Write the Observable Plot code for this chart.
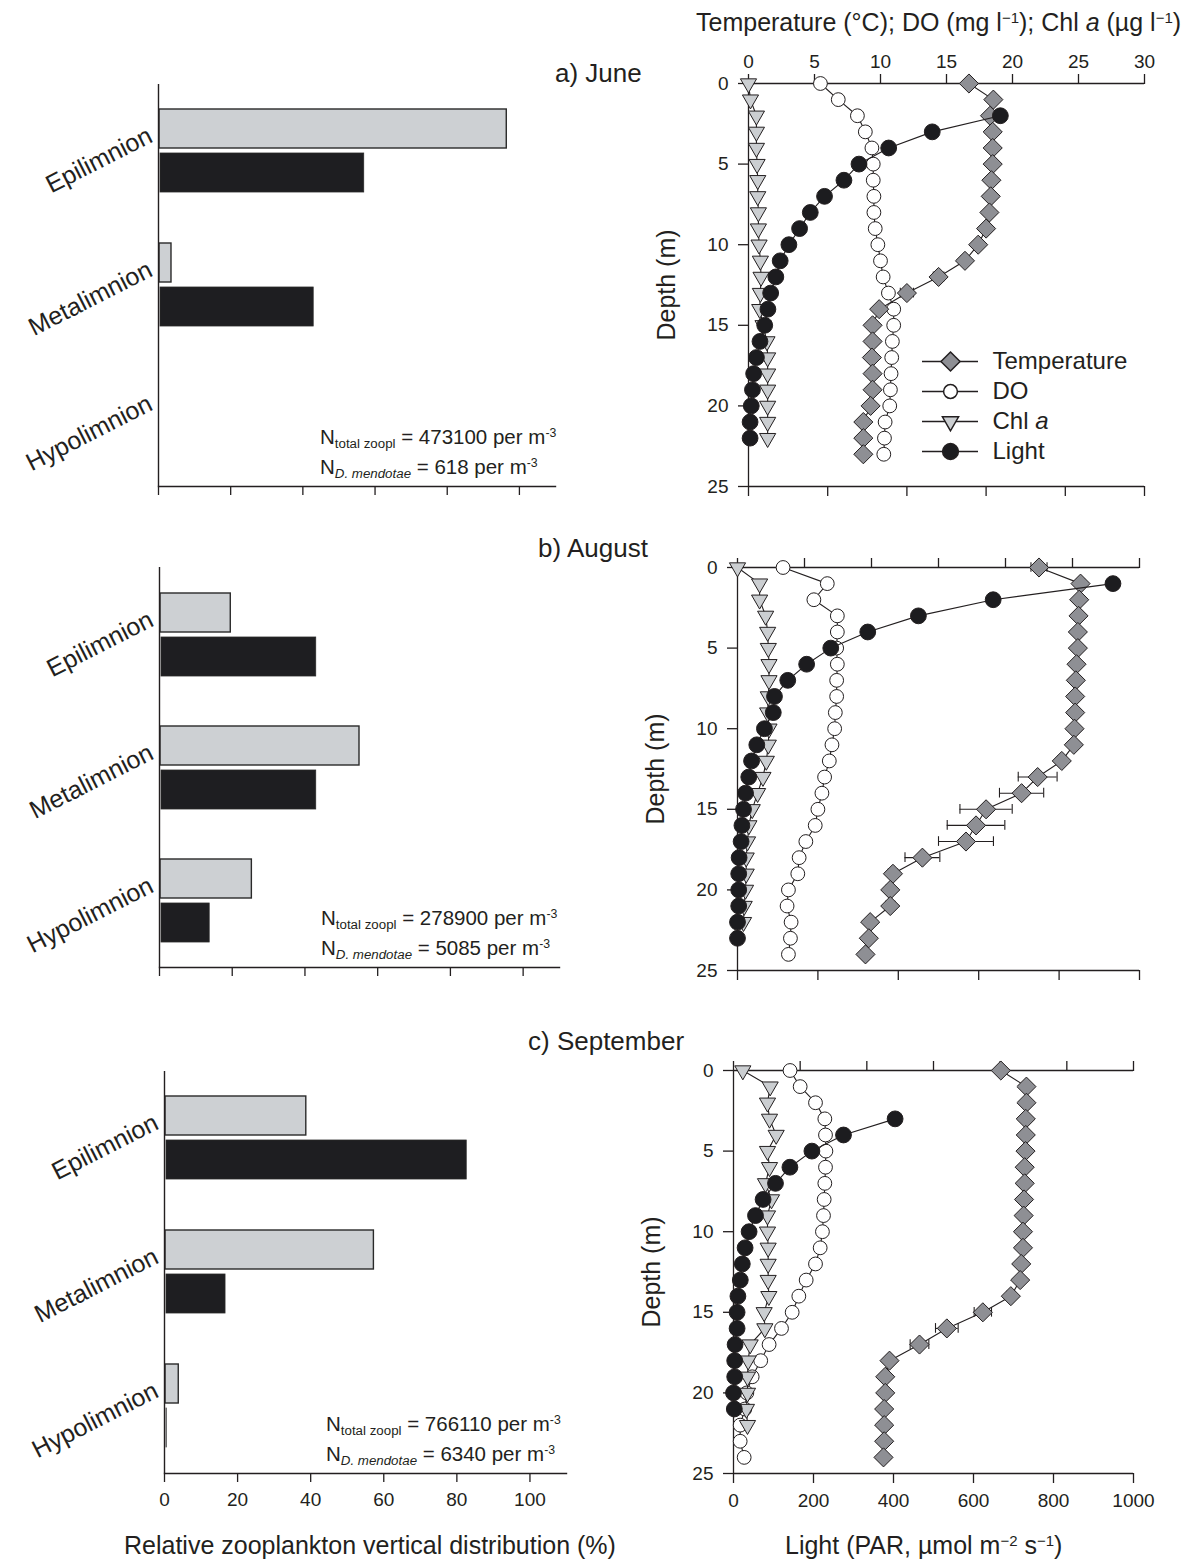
<!DOCTYPE html>
<html><head><meta charset="utf-8">
<script src="https://cdn.jsdelivr.net/npm/d3@7"></script>
<script src="https://cdn.jsdelivr.net/npm/@observablehq/plot@0.6"></script>
<style>
body{margin:0;background:#fff;}
#fig{position:relative;width:1189px;height:1560px;font-family:"Liberation Sans",Arial,Helvetica,sans-serif;color:#231f20;overflow:hidden;background:#fff;}
.abs{position:absolute;white-space:nowrap;line-height:1;}
.abs sup{font-size:0.6em;position:relative;top:-0.55em;vertical-align:baseline;}
.abs sub{font-size:0.65em;position:relative;top:0.3em;vertical-align:baseline;}
svg{overflow:visible;}
</style></head><body><div id="fig"></div><script>
// ---------------- DATA ----------------
const layers = ["Epilimnion", "Metalimnion", "Hypolimnion"];
// relative vertical distribution (%): total zooplankton (grey) and D. mendotae (black)
const totalJune = [96.5, 3.6, 0];
const dmJune    = [57.0, 43.0, 0];
const totalAug  = [19.6, 55.0, 25.4];
const dmAug     = [43.1, 43.1, 13.8];
const totalSep  = [38.8, 57.3, 3.9];
const dmSep     = [82.7, 16.7, 0.6];
const nTotal = ["473100", "278900", "766110"];
const nDm    = ["618", "5085", "6340"];
const pctTicks = [0, 20, 40, 60, 80, 100];

const tempTicks  = [0, 5, 10, 15, 20, 25, 30];
const parTicks   = [0, 200, 400, 600, 800, 1000];
const depthTicks = [0, 5, 10, 15, 20, 25];

// June profiles
const tDepthJune = [0,1,2,3,4,5,6,7,8,9,10,11,12,13,14,15,16,17,18,19,20,21,22,23];
const tempJune   = [16.7,18.55,18.3,18.5,18.5,18.5,18.4,18.35,18.25,18.0,17.4,16.4,14.4,12.0,9.9,9.4,9.4,9.35,9.4,9.4,9.25,8.7,8.7,8.7];
const tSdJune    = [0,0,0,0,0,0,0,0,0,0,0.2,0.3,0.4,0.5,0.2,0,0,0,0,0,0,0,0,0];
const oDepthJune = [0,1,2,3,4,5,6,7,8,9,10,11,12,13,14,15,16,17,18,19,20,21,22,23];
const doJune     = [5.45,6.8,8.25,8.85,9.35,9.45,9.45,9.5,9.5,9.6,9.8,10.0,10.2,10.6,11.0,11.0,10.9,10.85,10.8,10.75,10.7,10.35,10.3,10.25];
const cDepthJune = [0,1,2,3,4,5,6,7,8,9,10,11,12,13,14,15,16,17,18,19,20,21,22];
const chlJune    = [0,0.15,0.6,0.6,0.6,0.65,0.7,0.7,0.75,0.75,0.8,0.9,0.95,0.9,0.85,1.1,1.4,1.45,1.45,1.45,1.45,1.45,1.45];
const lDepthJune = [2,3,4,5,6,7,8,9,10,11,12,13,14,15,16,17,18,19,20,21,22];
const lightJune  = [636,464,354,279,241,192,156,129,102,80,69,56,49,41,29,20,13,10,7,4,4];

// August profiles
const tDepthAug = [0,1,2,3,4,5,6,7,8,9,10,11,12,13,14,15,16,17,18,19,20,21,22,23,24];
const tempAug   = [22.5,25.6,25.5,25.45,25.4,25.4,25.3,25.25,25.2,25.2,25.15,25.1,24.2,22.4,21.2,18.55,17.8,17.05,13.8,11.6,11.4,11.4,9.9,9.8,9.55];
const tSdAug    = [0.6,0.3,0,0,0,0,0,0,0,0,0,0,0.3,1.45,1.65,1.95,2.15,2.05,1.3,0.35,0.3,0.35,0,0,0];
const oDepthAug = [0,1,2,3,4,5,6,7,8,9,10,11,12,13,14,15,16,17,18,19,20,21,22,23,24];
const doAug     = [3.4,6.7,5.7,7.45,7.45,7.4,7.45,7.4,7.4,7.3,7.25,7.05,6.85,6.5,6.3,6.0,5.8,5.1,4.6,4.5,3.8,3.7,4.0,3.95,3.8];
const cDepthAug = [0,1,2,3,4,5,6,7,8,9,10,11,12,13,14,15,16,17,18,19,20,21,22];
const chlAug    = [0,1.65,1.65,2.1,2.25,2.3,2.35,2.35,2.3,2.25,2.35,2.3,2.15,1.9,1.5,1.1,0.85,0.75,0.65,0.65,0.6,0.5,0.45];
const lDepthAug = [1,2,3,4,5,6,7,8,9,10,11,12,13,14,15,16,17,18,19,20,21,22,23];
const lightAug  = [934,636,450,324,232,172,125,92,89,67,48,35,28,20,15,11,9,4,3,3,3,0,0];

// September profiles
const tDepthSep = [0,1,2,3,4,5,6,7,8,9,10,11,12,13,14,15,16,17,18,19,20,21,22,23,24];
const tempSep   = [20.05,21.97,21.97,21.92,21.92,21.9,21.84,21.84,21.79,21.76,21.71,21.71,21.58,21.5,20.8,18.7,16.0,13.95,11.7,11.38,11.38,11.3,11.3,11.3,11.25];
const tSdSep    = [0,0,0,0,0,0,0,0,0,0,0,0,0,0.1,0.3,0.65,0.85,0.7,0,0,0,0,0,0,0];
const oDepthSep = [0,1,2,3,4,5,6,7,8,9,10,11,12,13,14,15,16,17,18,19,20,21,22,23,24];
const doSep     = [4.24,5.0,6.15,6.85,6.9,6.93,6.9,6.85,6.8,6.75,6.67,6.5,6.15,5.45,4.9,4.4,3.6,2.67,2.04,1.4,1.0,0.85,0.5,0.5,0.8];
const cDepthSep = [0,1,2,3,4,5,6,7,8,9,10,11,12,13,14,15,16,17,18,19,20,21,22];
const chlSep    = [0.7,2.75,2.55,2.7,3.2,2.55,2.7,2.4,2.85,2.55,2.55,2.6,2.6,2.6,2.65,2.3,2.35,1.25,1.1,1.05,1.05,0.97,1.05];
const lDepthSep = [3,4,5,6,7,8,9,10,11,12,13,14,15,16,17,18,19,20,21];
const lightSep  = [404,275,196,141,105,74,55,39,29,22,17,11,9,9,4,3,3,0,2];

const legendNames = ["Temperature", "DO", "Chl a", "Light"];

// ---------------- STYLE ----------------
const FONT = '"Liberation Sans", Arial, Helvetica, sans-serif';
const INK = "#231f20";
const GREY_BAR = "#cdd0d3", BLACK_BAR = "#1e1e21";
const TEMP_FILL = "#8e8f94", CHL_FILL = "#cbced1", LIGHT_FILL = "#1c1c1f";
const TEMP_MAX = 30, PAR_MAX = 1000, DEPTH_MAX = 25, PCT_MAX = 110;
const R_TEMP = 8.6, R_DO = 6.9, R_CHL = 6.0, R_LIGHT = 7.9;
const fig = document.getElementById("fig");

function addHTML(html, left, top, size, extra) {
  const d = document.createElement("div");
  d.className = "abs";
  d.style.left = left + "px"; d.style.top = top + "px"; d.style.fontSize = size + "px";
  if (extra) d.style.cssText += extra;
  d.innerHTML = html;
  fig.append(d);
  return d;
}
function addSVG(svg, left, top) {
  svg.style.position = "absolute"; svg.style.left = left + "px"; svg.style.top = top + "px";
  fig.append(svg);
}
const rows = (depths, vals, sd) => depths.map((d, i) => ({depth: d, value: vals[i], sd: sd ? sd[i] : 0}));
const parX = v => v * TEMP_MAX / PAR_MAX;

function profilePanel(p) {
  const mL = 80, mR = 40, mT = 45, mB = 50;
  const T = rows(p.tDepth, p.temp, p.tSd), O = rows(p.oDepth, p.oxy), C = rows(p.cDepth, p.chl), L = rows(p.lDepth, p.light);
  const E = T.filter(d => d.sd > 0);
  const chart = Plot.plot({
    width: mL + p.w + mR, height: mT + p.h + mB,
    marginLeft: mL, marginRight: mR, marginTop: mT, marginBottom: mB,
    style: {fontFamily: FONT, fontSize: "19px", color: INK, background: "none", overflow: "visible"},
    x: {domain: [0, TEMP_MAX]},
    y: {domain: [0, DEPTH_MAX], reverse: true},
    marks: [
      Plot.ruleY([0, DEPTH_MAX], {stroke: INK, strokeWidth: 1.3}),
      Plot.ruleX([0], {stroke: INK, strokeWidth: 1.3}),
      Plot.axisX({anchor: "top", ticks: tempTicks, tickSize: 10, tickPadding: 6, strokeWidth: 1.3,
        tickFormat: p.topLabels ? (d => String(d)) : (() => ""), label: null}),
      Plot.axisX({anchor: "bottom", ticks: parTicks.map(parX), tickSize: 10, tickPadding: 10, strokeWidth: 1.3,
        tickFormat: p.bottomLabels ? (d => String(Math.round(d * PAR_MAX / TEMP_MAX))) : (() => ""), label: null}),
      Plot.axisY({anchor: "left", ticks: depthTicks, tickSize: 10, tickPadding: 10, strokeWidth: 1.3,
        tickFormat: d => String(d), label: null}),
      // DO
      Plot.line(O, {x: "value", y: "depth", stroke: INK, strokeWidth: 1.1}),
      Plot.dot(O, {x: "value", y: "depth", r: R_DO, fill: "white", stroke: INK, strokeWidth: 1}),
      // Chl a
      Plot.line(C, {x: "value", y: "depth", stroke: INK, strokeWidth: 1.1}),
      Plot.dot(C, {x: "value", y: "depth", symbol: "triangle", rotate: 180, r: R_CHL, fill: CHL_FILL, stroke: INK, strokeWidth: 1}),
      // Temperature with SD bars
      Plot.ruleY(E, {y: "depth", x1: d => d.value - d.sd, x2: d => d.value + d.sd, stroke: INK, strokeWidth: 1.1}),
      Plot.ruleX(E, {x: d => d.value - d.sd, y1: d => d.depth - 0.3, y2: d => d.depth + 0.3, stroke: INK, strokeWidth: 1.1}),
      Plot.ruleX(E, {x: d => d.value + d.sd, y1: d => d.depth - 0.3, y2: d => d.depth + 0.3, stroke: INK, strokeWidth: 1.1}),
      Plot.line(T, {x: "value", y: "depth", stroke: INK, strokeWidth: 1.1}),
      Plot.dot(T, {x: "value", y: "depth", symbol: "diamond2", r: R_TEMP, fill: TEMP_FILL, stroke: INK, strokeWidth: 1}),
      // Light (PAR, bottom axis)
      Plot.line(L, {x: d => parX(d.value), y: "depth", stroke: INK, strokeWidth: 1.1}),
      Plot.dot(L, {x: d => parX(d.value), y: "depth", r: R_LIGHT, fill: LIGHT_FILL, stroke: INK, strokeWidth: 1})
    ]
  });
  addSVG(chart, p.left - mL, p.top - mT);
  addHTML("Depth (m)", p.left - 82, p.top + p.h / 2, 25, "transform:translate(-50%,-50%) rotate(-90deg);");
  return chart;
}

function barPanel(p) {
  const mL = 170, mR = 30, mT = 10, mB = 50;
  const tot = layers.map((l, i) => ({layer: l, value: p.total[i]}));
  const dm  = layers.map((l, i) => ({layer: l, value: p.dm[i]}));
  const chart = Plot.plot({
    width: mL + p.w + mR, height: mT + p.h + mB,
    marginLeft: mL, marginRight: mR, marginTop: mT, marginBottom: mB,
    style: {fontFamily: FONT, fontSize: "19px", color: INK, background: "none", overflow: "visible"},
    x: {domain: [0, PCT_MAX]},
    y: {domain: layers, paddingInner: 0.377, paddingOuter: 0.1885, axis: null},
    marks: [
      Plot.barX(tot.filter(d => d.value > 0), {x: "value", y: "layer", insetBottom: 44, insetLeft: 1, fill: GREY_BAR, stroke: "#2a2a2a", strokeWidth: 1.4}),
      Plot.barX(dm.filter(d => d.value > 0), {x: "value", y: "layer", insetTop: 44, insetLeft: 2, fill: BLACK_BAR, stroke: "#2a2a2a", strokeWidth: 0.8}),
      Plot.ruleX([0], {stroke: INK, strokeWidth: 1.4}),
      Plot.frame({anchor: "bottom", stroke: INK, strokeWidth: 1.4}),
      Plot.axisX({anchor: "bottom", ticks: pctTicks, tickSize: 9, tickPadding: 10, strokeWidth: 1.3,
        tickFormat: p.labels ? (d => String(d)) : (() => ""), label: null}),
      Plot.text(layers, {y: d => d, text: d => d, frameAnchor: "left", textAnchor: "end", rotate: -27,
        dx: -8, dy: -17, fontSize: 25, fill: INK})
    ]
  });
  addSVG(chart, p.left - mL, p.top - mT);
  const nx = p.left + 162, bottom = p.top + p.h;
  addHTML(`N<sub>total zoopl</sub> = ${p.nTot} per m<sup>-3</sup>`, nx, bottom - 42 - 17, 20.5);
  addHTML(`N<sub><i>D. mendotae</i></sub> = ${p.nDm} per m<sup>-3</sup>`, nx, bottom - 12 - 17, 20.5);
  return chart;
}

// ---------------- BUILD ----------------
barPanel({left: 158, top: 84, w: 397, h: 402, total: totalJune, dm: dmJune, labels: false, nTot: nTotal[0], nDm: nDm[0]});
barPanel({left: 159, top: 567, w: 400, h: 400, total: totalAug, dm: dmAug, labels: false, nTot: nTotal[1], nDm: nDm[1]});
barPanel({left: 164, top: 1071, w: 402, h: 402, total: totalSep, dm: dmSep, labels: true, nTot: nTotal[2], nDm: nDm[2]});

profilePanel({left: 748, top: 83, w: 396, h: 403, topLabels: true, bottomLabels: false,
  tDepth: tDepthJune, temp: tempJune, tSd: tSdJune, oDepth: oDepthJune, oxy: doJune,
  cDepth: cDepthJune, chl: chlJune, lDepth: lDepthJune, light: lightJune});
profilePanel({left: 737, top: 567, w: 402, h: 403, topLabels: false, bottomLabels: false,
  tDepth: tDepthAug, temp: tempAug, tSd: tSdAug, oDepth: oDepthAug, oxy: doAug,
  cDepth: cDepthAug, chl: chlAug, lDepth: lDepthAug, light: lightAug});
profilePanel({left: 733, top: 1070, w: 400, h: 403, topLabels: false, bottomLabels: true,
  tDepth: tDepthSep, temp: tempSep, tSd: tSdSep, oDepth: oDepthSep, oxy: doSep,
  cDepth: cDepthSep, chl: chlSep, lDepth: lDepthSep, light: lightSep});

// legend (panel a)
const legend = Plot.plot({
  width: 260, height: 122, marginLeft: 4, marginRight: 200, marginTop: 15, marginBottom: 15,
  style: {fontFamily: FONT, fontSize: "24px", color: INK, background: "none", overflow: "visible"},
  x: {domain: [0, 1], axis: null},
  y: {type: "point", domain: legendNames, padding: 0, axis: null},
  marks: [
    Plot.ruleY(legendNames, {y: d => d, x1: 0, x2: 1, stroke: INK, strokeWidth: 1.3}),
    Plot.dot(["Temperature"], {x: 0.5, y: d => d, symbol: "diamond2", r: R_TEMP, fill: TEMP_FILL, stroke: INK}),
    Plot.dot(["DO"], {x: 0.5, y: d => d, r: R_DO, fill: "white", stroke: INK}),
    Plot.dot(["Chl a"], {x: 0.5, y: d => d, symbol: "triangle", rotate: 180, r: R_CHL, fill: CHL_FILL, stroke: INK}),
    Plot.dot(["Light"], {x: 0.5, y: d => d, r: R_LIGHT, fill: LIGHT_FILL, stroke: INK}),
    Plot.text(legendNames, {x: 1, y: d => d, text: d => d, textAnchor: "start", dx: 14, fill: INK})
  ]
});
d3.select(legend).selectAll("text").filter(function () { return this.textContent === "Chl a"; })
  .each(function () { const t = d3.select(this); t.text("Chl "); t.append("tspan").attr("font-style", "italic").text("a"); });
addSVG(legend, 918, 345);

// titles and axis labels
addHTML('Temperature (°C); DO (mg l<sup>−1</sup>); Chl <i>a</i> (µg l<sup>−1</sup>)', 696, 10, 25);
addHTML("a) June", 555, 60, 26);
addHTML("b) August", 538, 535, 26);
addHTML("c) September", 528, 1028, 26);
addHTML("Relative zooplankton vertical distribution (%)", 124, 1533, 25);
addHTML('Light (PAR, µmol m<sup>−2</sup> s<sup>−1</sup>)', 785, 1533, 25);
</script></body></html>
